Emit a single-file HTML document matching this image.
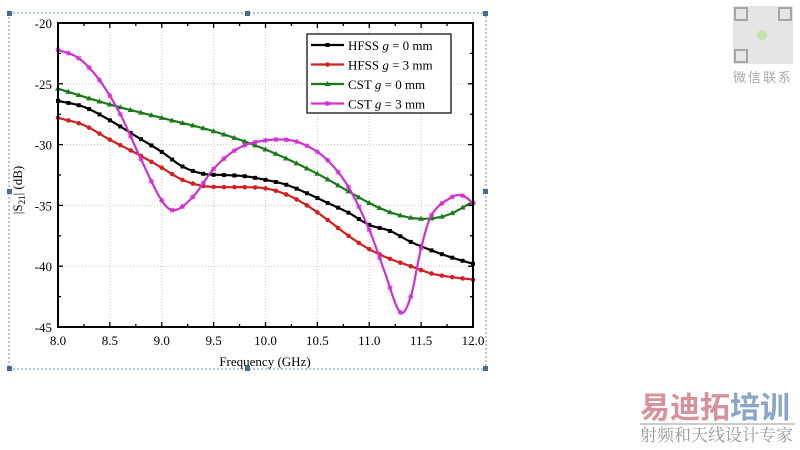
<!DOCTYPE html>
<html><head><meta charset="utf-8"><style>
body{margin:0;width:800px;height:450px;background:#fff;overflow:hidden;font-family:"Liberation Serif",serif;}
svg{position:absolute;left:0;top:0}
</style></head><body>
<svg id="s" width="800" height="450" xmlns="http://www.w3.org/2000/svg">
<rect x="9" y="13" width="477" height="356" fill="none" stroke="#6a8fb5" stroke-width="1" stroke-dasharray="2,2"/>
<g fill="#4a6a90">
<rect x="7" y="11" width="5" height="5"/><rect x="245" y="11" width="5" height="5"/><rect x="483" y="11" width="5" height="5"/>
<rect x="7" y="189" width="5" height="5"/><rect x="483" y="189" width="5" height="5"/>
<rect x="7" y="366" width="5" height="5"/><rect x="245" y="366" width="5" height="5"/><rect x="483" y="366" width="5" height="5"/>
</g>
<g id="grid" stroke="#c8c8c8" stroke-width="1" stroke-dasharray="1,2"></g>
<g id="ser"></g>
<rect x="58" y="23" width="415" height="304" fill="none" stroke="#000" stroke-width="2"/>
<g id="ticks" stroke="#000" stroke-width="1.3"></g>
<g id="lbl" font-size="13" fill="#000"></g>
<text x="265" y="366" font-size="13" text-anchor="middle">Frequency (GHz)</text>
<text transform="translate(22,190) rotate(-90)" font-size="13" text-anchor="middle">|S<tspan font-size="9" dy="3">21</tspan><tspan dy="-3">| (dB)</tspan></text>
<rect x="307" y="34" width="144" height="79" fill="#fff" stroke="#000" stroke-width="1.2"/>
<g id="leg" font-size="13"></g>
<!-- watermark -->
<g fill="#999" opacity="0.75">
<rect x="733" y="6" width="60" height="58" fill="#ddd"/>
<rect x="735" y="8" width="12" height="12" fill="none" stroke="#888" stroke-width="2"/>
<rect x="779" y="8" width="12" height="12" fill="none" stroke="#888" stroke-width="2"/>
<rect x="735" y="50" width="12" height="12" fill="none" stroke="#888" stroke-width="2"/>
<circle cx="762" cy="35" r="5" fill="#b8d890"/>
</g>
<text x="763" y="82" font-size="13" fill="#aaa" text-anchor="middle" font-family="'Noto Sans CJK SC',sans-serif" letter-spacing="2">微信联系</text>
<text x="640" y="418" font-size="30" font-weight="bold" fill="#d8909a" font-family="'Noto Sans CJK SC',sans-serif">易迪拓<tspan fill="#8aa3c8">培训</tspan></text>
<line x1="640" y1="424" x2="795" y2="424" stroke="#bbb" stroke-width="1.5"/>
<text x="640" y="441" font-size="17" fill="#999" font-family="'Noto Serif CJK SC',serif">射频和天线设计专家</text>
</svg>
<script>
const NS="http://www.w3.org/2000/svg";
const X=f=>58+(f-8)*103.75, Y=v=>23+(-20-v)*12.16;
function el(p,t,a,txt){const e=document.createElementNS(NS,t);for(const k in a)e.setAttribute(k,a[k]);if(txt!=null)e.textContent=txt;document.getElementById(p).appendChild(e);return e;}
for(let f=8.5;f<12;f+=0.5)el("grid","line",{x1:X(f),x2:X(f),y1:23,y2:327});
for(let v=-25;v>-45;v-=5)el("grid","line",{x1:58,x2:473,y1:Y(v),y2:Y(v)});
for(let i=0;i<=16;i++){const f=8+i*0.25,len=i%2?3:5;el("ticks","line",{x1:X(f),x2:X(f),y1:327,y2:327-len});el("ticks","line",{x1:X(f),x2:X(f),y1:23,y2:23+len});}
for(let i=0;i<=10;i++){const v=-20-i*2.5,len=i%2?3:5;el("ticks","line",{x1:58,x2:58+len,y1:Y(v),y2:Y(v)});el("ticks","line",{x1:473,x2:473-len,y1:Y(v),y2:Y(v)});}
for(let i=0;i<=8;i++){const f=8+i*0.5;el("lbl","text",{x:X(f),y:345,"text-anchor":"middle"},f.toFixed(1));}
for(let i=0;i<=5;i++){const v=-20-i*5;el("lbl","text",{x:52,y:Y(v)+5,"text-anchor":"end"},String(v));}
const D={
k:[[8,-26.4],[8.25,-26.9],[8.5,-28],[8.75,-29.3],[9,-30.6],[9.2,-31.8],[9.4,-32.4],[9.6,-32.5],[9.8,-32.6],[10,-32.9],[10.2,-33.3],[10.4,-34],[10.6,-34.8],[10.8,-35.6],[11,-36.6],[11.2,-37.1],[11.4,-38],[11.6,-38.7],[11.8,-39.3],[12,-39.8]],
r:[[8,-27.8],[8.25,-28.4],[8.5,-29.6],[8.75,-30.7],[9,-31.9],[9.2,-32.9],[9.4,-33.4],[9.6,-33.5],[9.8,-33.5],[10,-33.6],[10.2,-34.1],[10.4,-35],[10.6,-36.2],[10.8,-37.5],[11,-38.6],[11.2,-39.4],[11.4,-40],[11.6,-40.6],[11.8,-40.9],[12,-41.1]],
g:[[8,-25.4],[8.5,-26.7],[9,-27.8],[9.5,-28.9],[10,-30.4],[10.5,-32.4],[11,-34.8],[11.25,-35.7],[11.5,-36.1],[11.75,-35.8],[12,-34.7]],
m:[[8,-22.2],[8.2,-22.9],[8.4,-24.7],[8.6,-27.5],[8.8,-31.2],[9,-34.6],[9.12,-35.4],[9.3,-34.3],[9.5,-32],[9.7,-30.5],[9.9,-29.8],[10.2,-29.6],[10.4,-30.1],[10.6,-31.3],[10.8,-33.5],[11,-37],[11.15,-40.5],[11.3,-43.8],[11.4,-42.5],[11.5,-38.5],[11.6,-35.8],[11.8,-34.3],[11.9,-34.2],[12,-34.8]]};
const C={k:"#000",r:"#d02020",g:"#1a7a1a",m:"#d030d0"};
function interp(pts,f){for(let i=0;i<pts.length-1;i++){if(f<=pts[i+1][0]+1e-9){const p0=pts[Math.max(i-1,0)],p1=pts[i],p2=pts[i+1],p3=pts[Math.min(i+2,pts.length-1)];const t=(f-p1[0])/(p2[0]-p1[0]);const m1=(p2[1]-p0[1])/(p2[0]-p0[0])*(p2[0]-p1[0]),m2=(p3[1]-p1[1])/(p3[0]-p1[0])*(p2[0]-p1[0]);const t2=t*t,t3=t2*t;return (2*t3-3*t2+1)*p1[1]+(t3-2*t2+t)*m1+(-2*t3+3*t2)*p2[1]+(t3-t2)*m2;}}return pts[pts.length-1][1];}
function marker(k,x,y,p){const c=C[k];if(k=="k")el(p,"rect",{x:x-2,y:y-2,width:4,height:4,fill:c});else if(k=="r")el(p,"circle",{cx:x,cy:y,r:2.3,fill:c});else if(k=="g")el(p,"path",{d:`M${x},${y-3}L${x+3},${y+2}L${x-3},${y+2}Z`,fill:c});else el(p,"path",{d:`M${x-2.5},${y}H${x+2.5}M${x},${y-2.5}V${y+2.5}M${x-2},${y-2}L${x+2},${y+2}M${x+2},${y-2}L${x-2},${y+2}`,stroke:c,"stroke-width":1});}
for(const k of ["k","r","g","m"]){let d="";for(let i=0;i<=400;i++){const f=8+i*0.01;d+=(i?"L":"M")+X(f).toFixed(1)+","+Y(interp(D[k],f)).toFixed(1);}
el("ser","path",{d:d,fill:"none",stroke:C[k],"stroke-width":2.2});
for(let i=0;i<=40;i++){const f=8+i*0.1;marker(k,X(f),Y(interp(D[k],f)),"ser");}}
const L=[["k","HFSS ","g"," = 0 mm"],["r","HFSS ","g"," = 3 mm"],["g","CST ","g"," = 0 mm"],["m","CST ","g"," = 3 mm"]];
L.forEach((l,i)=>{const y=45+i*19.5;el("leg","line",{x1:311,x2:344,y1:y,y2:y,stroke:C[l[0]],"stroke-width":2.2});marker(l[0],327.5,y,"leg");const t=el("leg","text",{x:348,y:y+5});t.innerHTML=l[1]+'<tspan font-style="italic">g</tspan>'+l[3];});
</script>
</body></html>
